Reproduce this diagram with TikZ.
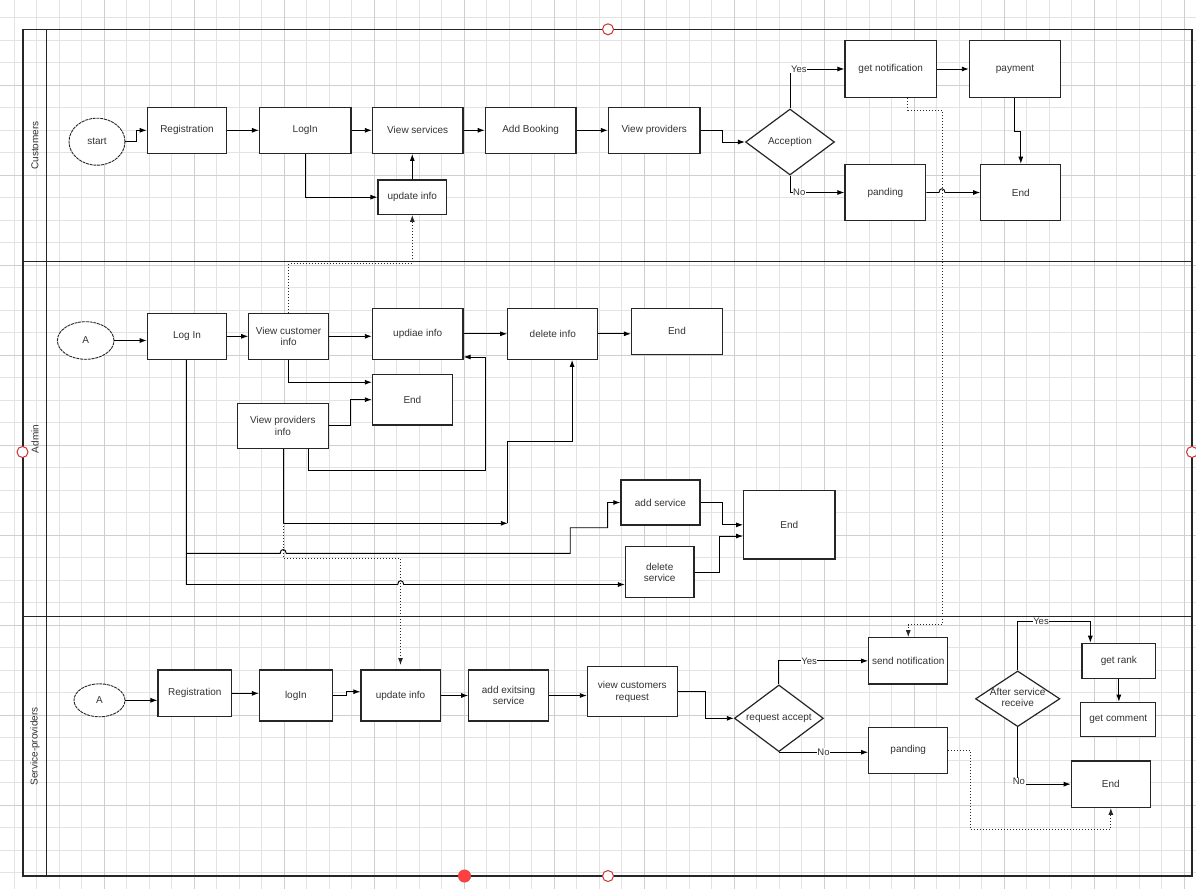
\documentclass[tikz,border=0pt]{standalone}
\usepackage{fontspec}
\setmainfont{Liberation Sans}
\usetikzlibrary{arrows.meta,shapes.geometric}
\newcommand{\bx}[6]{\node[box, minimum width={#4-#2}, minimum height={#5-#3}] (#1) at ({(#2+#4)/2},{(#3+#5)/2}) {#6};}
\begin{document}
\begin{tikzpicture}[x=1pt,y=-1pt,
 txt/.style={font=\fontsize{10}{11.5}\selectfont, text=black!80},
 box/.style={txt, draw=black!85, line width=1.2pt, fill=white, inner sep=0pt, align=center},
 ell/.style={txt, ellipse, draw=black!85, line width=0.9pt, dash pattern=on 3pt off 0.8pt, fill=white, inner sep=0pt},
 dia/.style={txt, diamond, draw=black!85, line width=1.2pt, fill=white, inner sep=0pt, align=center},
 arr/.style={draw=black, line width=0.9pt, -{Latex[length=7pt,width=5pt]}},
 con/.style={draw=black, line width=0.9pt},
 dotarr/.style={draw=black!85, line width=0.9pt, dash pattern=on 1pt off 2pt, -{Latex[length=7pt,width=5pt]}},
 lbl/.style={font=\fontsize{9.5}{10}\selectfont, text=black!80, fill=white, inner sep=0.6pt},
 lane/.style={font=\fontsize{10}{11}\selectfont, text=black!80, rotate=90},
 minorgrid/.style={draw=black!11, line width=0.6pt},
 majorgrid/.style={draw=black!19, line width=0.9pt},
 handle/.style={draw=red!75!black!80, line width=1pt, fill=white}
]
\useasboundingbox (0,0) rectangle (1196,889);
\fill[white] (0,0) rectangle (1196,889);
% grid
\foreach \i in {1,...,53} {\draw[minorgrid] ({-8.5+22.5*\i},0) -- ++(0,889);}
\foreach \i in {1,...,39} {\draw[minorgrid] (0,{-5+22.5*\i}) -- ++(1196,0);}
\foreach \i in {0,...,12} {\draw[majorgrid] ({104+90*\i},0) -- ++(0,889);}
\foreach \i in {0,...,8} {\draw[majorgrid] (0,{85+90*\i}) -- ++(1196,0);}
% pool
\draw[black!85, line width=1.2pt] (23,29.3) rectangle (1192,876);
\draw[black!85, line width=1.2pt] (46.7,29.3) -- (46.7,876);
\draw[black!85, line width=1.2pt] (23,261.5) -- (1192,261.5);
\draw[black!85, line width=1.2pt] (23,616.7) -- (1192,616.7);
\node[lane] (lc) at (35,145.4) {Customers};
\node[lane] (la) at (35,439) {Admin};
\node[lane] (ls) at (35,746.4) {Service-providers};

% ---------- Customers ----------
\node[ell, minimum width=56, minimum height=47] (start) at (97,141.7) {start};
\bx{reg1}{147.3}{107.3}{226.6}{153.3}{Registration}
\bx{login1}{259.5}{107.3}{351}{153.3}{LogIn}
\bx{viewserv}{372.4}{107.3}{463}{153.3}{View services}
\bx{addbook}{485.3}{107.3}{576}{153.3}{Add Booking}
\bx{viewprov}{608.4}{107.3}{700}{153.3}{View providers}
\bx{upd1}{378}{180}{446.6}{214.3}{update info}
\node[dia, minimum width=89, minimum height=66] (accept) at (790,142) {\makebox[0pt]{Acception}};
\bx{getnot}{845}{40.7}{936.4}{97.3}{get notification}
\bx{payment}{969.4}{40.7}{1060.7}{97.3}{payment}
\bx{pand1}{845}{164.3}{925.7}{220.7}{panding}
\bx{end1}{980.8}{164.3}{1060.7}{220.7}{End}

\draw[arr] (start.east) -- (136,141.7) |- (reg1.west);
\draw[arr] (reg1.east) -- (login1.west);
\draw[arr] (login1.east) -- (viewserv.west);
\draw[arr] (viewserv.east) -- (addbook.west);
\draw[arr] (addbook.east) -- (viewprov.west);
\draw[arr] (305,0 |- login1.south) |- (upd1.west);
\draw[arr] (upd1.north) -- (upd1.north |- viewserv.south);
\draw[arr] (viewprov.east) -- (722.4,130.3) |- (accept.west);
\draw[arr] (accept.north) |- (getnot.west) node[lbl, pos=0.5, anchor=west] {Yes};
\draw[arr] (accept.south) |- (pand1.west) node[lbl, pos=0.52, anchor=west] {No};
\draw[arr] (getnot.east) -- (payment.west);
\draw[arr] (1014.3,0 |- payment.south) -- (1014.3,131) -- (1020.8,131) -- (1020.8,0 |- end1.north);
\draw[arr] (pand1.east) -- (939,192.5) .. controls (939,187.5) and (945,187.5) .. (945,192.5) -- (end1.west);

% ---------- Admin ----------
\node[ell, minimum width=56.6, minimum height=37.6] (A1) at (85.7,340.5) {A};
\bx{login2}{147.3}{313.3}{226.6}{359.3}{Log In}
\bx{viewcust}{248.8}{313.3}{328.4}{359.3}{View customer\\info}
\bx{updiae}{372.4}{308.3}{463}{359.3}{updiae info}
\bx{delinfo}{507.8}{308.3}{597.8}{359.3}{delete info}
\bx{end2}{631.5}{308.3}{722.4}{354.3}{End}
\bx{end3}{372.4}{374.3}{452.4}{425}{End}
\bx{viewprovinfo}{237.3}{403.3}{328.4}{448.3}{View providers\\info}
\bx{addserv}{620.9}{480}{700}{525}{add service}
\bx{endbig}{743.7}{490.7}{834.9}{559}{End}
\bx{delserv}{625.5}{546.7}{693.9}{597.7}{delete\\service}

\draw[arr] (A1.east) -- (A1.east -| login2.west);
\draw[arr] (login2.east) -- (viewcust.west);
\draw[arr] (viewcust.east) -- (viewcust.east -| updiae.west);
\draw[arr] (updiae.east) -- (delinfo.west);
\draw[arr] (delinfo.east) -- (delinfo.east -| end2.west);
\draw[arr] (viewcust.south) |- ([yshift=17.4pt]end3.west);
\draw[arr] (viewprovinfo.east) -- (350.2,425.8) |- (end3.west);
\draw[arr] (308,0 |- viewprovinfo.south) -- (308,470.7) -- (485.3,470.7) -- (485.3,357) -- (updiae.east |- 0,357);
\coordinate (mid1) at (507.8,523.3);
\draw[arr] (283.2,0 |- viewprovinfo.south) |- (mid1);
\draw[arr] (mid1) -- (507.8,441.7) -- (572.1,441.7) -- (572.1,0 |- delinfo.south);
\coordinate (br) at (186.4,553.3);
\draw[arr] (186.4,0 |- login2.south) -- (186.4,584.5) -- (397.7,584.5) .. controls (397.7,579.5) and (403.7,579.5) .. (403.7,584.5) -- (delserv.west |- 0,584.5);
\draw[arr] (br) -- (280.2,553.3) .. controls (280.2,548.3) and (286.2,548.3) .. (286.2,553.3) -- (570.2,553.3) -- (570.2,527.7) -- (607.6,527.7) |- (addserv.west);
\draw[arr] (addserv.east) -- (722.4,502.5) |- (endbig.west);
\draw[arr] (delserv.east) -- (719,572.2) |- ([yshift=-11.2pt]endbig.west);
\draw[dotarr] (viewcust.north) -- ++(0,-49) -| (upd1.south);
\draw[dotarr] (283.2,523.3) -- (283.2,558.3) -| (400.5,665);

% ---------- Service providers ----------
\node[ell, minimum width=51, minimum height=33] (A2) at (99.5,700.3) {A};
\bx{reg2}{158}{670}{231.5}{716.7}{Registration}
\bx{login3}{259.5}{670}{332.2}{721}{logIn}
\bx{upd3}{360.9}{670}{440.1}{721}{update info}
\bx{addexist}{468.8}{670}{548.4}{721}{add exitsing\\service}
\bx{viewcreq}{587.4}{666.7}{677.2}{716.7}{view customers\\request}
\node[dia, minimum width=89, minimum height=66.7] (reqacc) at (778.9,718.3) {\makebox[0pt]{request accept}};
\bx{sendnot}{868.7}{637.7}{947.8}{684}{send notification}
\bx{pand2}{868.7}{727.3}{947.8}{773.3}{panding}
\node[dia, minimum width=84.4, minimum height=55.7] (after) at (1017.7,698.8) {\makebox[0pt]{\begin{tabular}{@{}c@{}}After service\\[-1pt]receive\end{tabular}}};
\bx{getrank}{1082}{643.3}{1155.7}{678.3}{get rank}
\bx{getcomm}{1080.8}{702.3}{1155.7}{736.7}{get comment}
\bx{end4}{1071.3}{761}{1150.4}{807.3}{End}

\draw[arr] (A2.east) -- (A2.east -| reg2.west);
\draw[arr] (reg2.east) -- (reg2.east -| login3.west);
\draw[arr] (login3.east) -- (346.3,695.5) -- (346.3,691.7) -- (upd3.west |- 0,691.7);
\draw[arr] (upd3.east) -- (addexist.west);
\draw[arr] (addexist.east) -- (addexist.east -| viewcreq.west);
\draw[arr] (viewcreq.east) -- (705.7,691.7) |- (reqacc.west);
\draw[arr] (reqacc.north) |- (sendnot.west) node[lbl, pos=0.62, anchor=west] {Yes};
\draw[arr] (reqacc.south) -- (reqacc.south -| pand2.west) node[lbl, pos=0.42, anchor=west] {No};
\draw[dotarr] (pand2.east) -- (970.6,750.3) |- (end4.south |- 0,829.3) -- (end4.south);
\draw[arr] (after.north) -- (1017.7,621) -- (1090.3,621) -- (1090.3,0 |- getrank.north);
\node[lbl] (yes3) at (1041,621) {Yes};
\draw[arr] (after.south) |- (end4.west);
\node[lbl, anchor=west] (no3) at (1012,781.5) {No};
\draw[arr] (getrank.south) -- (getrank.south |- getcomm.north);
\draw[dotarr] (907.9,0 |- getnot.south) -- (907.9,110) -- (942,110) -- (942,624.7) -| (sendnot.north);

% selection handles
\draw[handle] (608,29.3) circle[radius=5.5];
\draw[handle] (22.5,452) circle[radius=5.5];
\draw[handle] (1192,452) circle[radius=5.5];
\draw[handle] (608,876) circle[radius=5.5];
\fill[red!70!black!70!white] (464.5,876) circle[radius=6.5];
\fill[red!75] (464.5,876) circle[radius=6];
\end{tikzpicture}
\end{document}
